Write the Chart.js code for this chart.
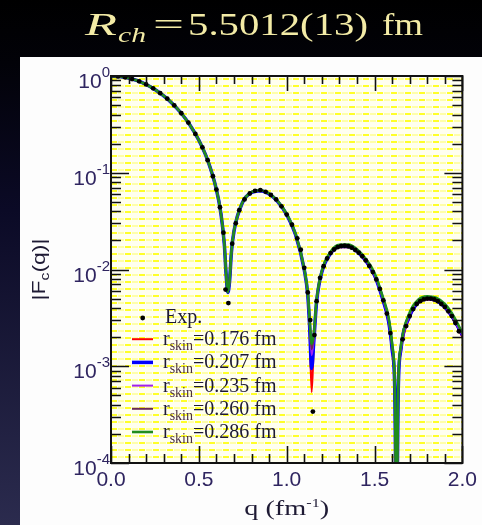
<!DOCTYPE html>
<html>
<head>
<meta charset="utf-8">
<title>Charge form factor</title>
<script src="https://cdn.jsdelivr.net/npm/chart.js@4.4.1/dist/chart.umd.min.js"></script>
<style>
html,body{margin:0;padding:0;background:#000;}
#wrap{width:482px;height:525px;position:relative;overflow:hidden;}
canvas{display:block;}
</style>
</head>
<body>
<div id="wrap"><canvas id="c" width="482" height="525"></canvas></div>
<script>
// ---------- data ----------
const qTheory = [0, 0.05, 0.1, 0.15, 0.2, 0.25, 0.3, 0.35, 0.4, 0.45, 0.5, 0.55, 0.6, 0.625, 0.645, 0.655, 0.665, 0.675, 0.685, 0.7, 0.75, 0.8, 0.85, 0.9, 0.95, 1.0, 1.05, 1.1, 1.12, 1.13, 1.142, 1.155, 1.17, 1.2, 1.25, 1.3, 1.35, 1.4, 1.45, 1.5, 1.55, 1.58, 1.6, 1.615, 1.625, 1.635, 1.65, 1.7, 1.75, 1.8, 1.85, 1.9, 1.95, 2.0];

const fSkin176 = [1.000, 0.988, 0.952, 0.894, 0.817, 0.726, 0.624, 0.518, 0.412, 0.310, 0.217, 0.135, 0.0669, 0.0383, 0.0181, 0.0090, 0.0058, 0.0075, 0.0147, 0.0248, 0.0496, 0.0624, 0.0651, 0.0600, 0.0498, 0.0366, 0.0228, 0.0098, 0.0053, 0.0025, 0.00054, 0.0018, 0.0045, 0.0093, 0.0145, 0.0170, 0.0170, 0.0152, 0.0121, 0.0085, 0.0046, 0.0028, 0.0014, 0.00056, 0.00002, 0.00056, 0.0014, 0.0032, 0.0045, 0.0049, 0.0047, 0.0040, 0.0030, 0.0020];
const fSkin207 = [1.000, 0.988, 0.952, 0.894, 0.817, 0.726, 0.624, 0.518, 0.412, 0.310, 0.217, 0.135, 0.0670, 0.0384, 0.0182, 0.0090, 0.0058, 0.0076, 0.0148, 0.0249, 0.0498, 0.0626, 0.0653, 0.0603, 0.0501, 0.0369, 0.0230, 0.0099, 0.0054, 0.0027, 0.00095, 0.0019, 0.0046, 0.0094, 0.0147, 0.0173, 0.0173, 0.0155, 0.0123, 0.0087, 0.0047, 0.0029, 0.0015, 0.00058, 0.00002, 0.00058, 0.0015, 0.0033, 0.0046, 0.0050, 0.0048, 0.0041, 0.0031, 0.0021];
const fSkin235 = [1.000, 0.988, 0.952, 0.894, 0.817, 0.726, 0.624, 0.518, 0.412, 0.310, 0.217, 0.135, 0.0671, 0.0385, 0.0183, 0.0091, 0.0058, 0.0076, 0.0149, 0.0250, 0.0499, 0.0628, 0.0655, 0.0605, 0.0503, 0.0371, 0.0232, 0.0100, 0.0055, 0.0029, 0.0013, 0.0020, 0.0047, 0.0095, 0.0149, 0.0175, 0.0175, 0.0157, 0.0125, 0.0088, 0.0048, 0.0030, 0.0016, 0.00060, 0.00002, 0.00060, 0.0015, 0.0034, 0.0047, 0.0051, 0.0049, 0.0042, 0.0031, 0.0021];
const fSkin260 = [1.000, 0.988, 0.952, 0.894, 0.817, 0.726, 0.624, 0.518, 0.412, 0.310, 0.217, 0.135, 0.0672, 0.0386, 0.0183, 0.0091, 0.0058, 0.0077, 0.0149, 0.0250, 0.0500, 0.0629, 0.0657, 0.0607, 0.0505, 0.0373, 0.0233, 0.0101, 0.0056, 0.0030, 0.0015, 0.0021, 0.0048, 0.0096, 0.0151, 0.0177, 0.0178, 0.0159, 0.0127, 0.0090, 0.0049, 0.0031, 0.0016, 0.00062, 0.00002, 0.00062, 0.0016, 0.0035, 0.0048, 0.0052, 0.0050, 0.0043, 0.0032, 0.0022];
const fSkin286 = [1.000, 0.988, 0.952, 0.894, 0.817, 0.726, 0.624, 0.518, 0.412, 0.310, 0.217, 0.135, 0.0673, 0.0387, 0.0184, 0.0092, 0.0058, 0.0077, 0.0150, 0.0251, 0.0502, 0.0631, 0.0659, 0.0609, 0.0507, 0.0375, 0.0235, 0.0102, 0.0057, 0.0031, 0.0017, 0.0022, 0.0049, 0.0097, 0.0153, 0.0180, 0.0181, 0.0162, 0.0129, 0.0092, 0.0050, 0.0032, 0.0017, 0.00064, 0.00002, 0.00064, 0.0016, 0.0036, 0.0049, 0.0053, 0.0051, 0.0044, 0.0033, 0.0022];

const expQ = [0.04, 0.08, 0.12, 0.16, 0.20, 0.24, 0.28, 0.32, 0.36, 0.40, 0.44, 0.48, 0.52, 0.55, 0.58, 0.60, 0.62, 0.64, 0.652, 0.668, 0.69, 0.71, 0.73, 0.76, 0.79, 0.82, 0.85, 0.88, 0.91, 0.94, 0.97, 1.00, 1.03, 1.06, 1.08, 1.10, 1.12, 1.134, 1.149, 1.158, 1.17, 1.19, 1.21, 1.23, 1.25, 1.27, 1.29, 1.31, 1.33, 1.35, 1.37, 1.39, 1.41, 1.43, 1.45, 1.47, 1.49, 1.51, 1.53, 1.55, 1.57, 1.59, 1.66, 1.68, 1.70, 1.72, 1.74, 1.76, 1.78, 1.80, 1.82, 1.84, 1.86, 1.88, 1.90, 1.92, 1.94, 1.96, 1.98];
const expF = [0.991, 0.968, 0.930, 0.880, 0.818, 0.745, 0.665, 0.583, 0.497, 0.412, 0.330, 0.252, 0.183, 0.135, 0.092, 0.067, 0.044, 0.024, 0.0062, 0.0045, 0.0185, 0.030, 0.041, 0.053, 0.061, 0.065, 0.066, 0.0635, 0.059, 0.053, 0.045, 0.037, 0.029, 0.021, 0.016, 0.0104, 0.0058, 0.0030, 0.00034, 0.0021, 0.0047, 0.0082, 0.0108, 0.0130, 0.0148, 0.0161, 0.0170, 0.0175, 0.0176, 0.0174, 0.0168, 0.0159, 0.0149, 0.0137, 0.0124, 0.0109, 0.0094, 0.0079, 0.0063, 0.0048, 0.0035, 0.0022, 0.0019, 0.0026, 0.0033, 0.0039, 0.0044, 0.0047, 0.0049, 0.0050, 0.0050, 0.0049, 0.0047, 0.0044, 0.0041, 0.0037, 0.0033, 0.0028, 0.0023];

const skinLabels = ['0.176', '0.207', '0.235', '0.260', '0.286'];
const xTickValues = [0, 0.5, 1.0, 1.5, 2.0];
const yDecades = [0, -1, -2, -3, -4];

// ---------- styles ----------
const SANS = '"Liberation Sans", Arial, sans-serif';
const SERIF = '"Liberation Serif", "Times New Roman", serif';
const TICK_COLOR = '#2f2560';
const TEXT_COLOR = '#1e1a34';

const seriesStyle = [
  { values: fSkin176, color: '#ff0000', width: 2 },
  { values: fSkin207, color: '#0000ff', width: 3.5 },
  { values: fSkin235, color: '#a020f0', width: 2 },
  { values: fSkin260, color: '#6a2a55', width: 2 },
  { values: fSkin286, color: '#1f8c1f', width: 2.6 }
];

function pairs(xs, ys) { return xs.map((x, i) => ({ x: x, y: ys[i] })); }

function makePattern(ctx) {
  const t = document.createElement('canvas');
  t.width = 14; t.height = 7;
  const g = t.getContext('2d');
  g.fillStyle = '#fffff0'; g.fillRect(0, 0, 14, 7);
  g.fillStyle = '#ffff28'; g.fillRect(0, 2, 6, 2);
  g.fillStyle = '#ffffa8'; g.fillRect(7, 2, 6, 2);
  return ctx.createPattern(t, 'repeat');
}

function drawPart(ctx, text, font, x, y, targetW) {
  ctx.font = font;
  const w = ctx.measureText(text).width;
  const s = targetW ? targetW / w : 1;
  ctx.save();
  ctx.translate(x, y);
  ctx.scale(s, 1);
  ctx.fillText(text, 0, 0);
  ctx.restore();
  return w * s;
}

function drawTitle(ctx) {
  ctx.save();
  ctx.fillStyle = '#f3eba6';
  ctx.textBaseline = 'alphabetic';
  ctx.textAlign = 'left';
  drawPart(ctx, 'R', 'italic 31px ' + SERIF, 85, 35, 32);
  drawPart(ctx, 'ch', 'italic 21px ' + SERIF, 118, 42, 28);
  drawPart(ctx, '=', '31px ' + SERIF, 153, 35, 31);
  drawPart(ctx, '5.5012(13)', '31px ' + SERIF, 188, 35, 180);
  drawPart(ctx, 'fm', '31px ' + SERIF, 382, 35, 41);
  ctx.restore();
}

const backdrop = {
  id: 'backdrop',
  beforeDraw(chart) {
    const { ctx, chartArea: a, width, height } = chart;
    ctx.save();
    const bg = ctx.createLinearGradient(0, 0, 0, height);
    bg.addColorStop(0, '#000000');
    bg.addColorStop(0.12, '#020208');
    bg.addColorStop(0.4, '#0b0a26');
    bg.addColorStop(1, '#2b2b4e');
    ctx.fillStyle = bg;
    ctx.fillRect(0, 0, width, height);
    ctx.fillStyle = '#fdfdfd';
    ctx.fillRect(20, 57, width - 20, height - 57);
    drawTitle(ctx);
    ctx.translate(a.left, a.top);
    ctx.fillStyle = makePattern(ctx);
    ctx.fillRect(0, 0, a.right - a.left, a.bottom - a.top);
    ctx.restore();
  }
};

const frame = {
  id: 'frame',
  afterDraw(chart) {
    const { ctx, chartArea: a, scales } = chart;
    const xs = scales.x, ys = scales.y;
    ctx.save();
    // ticks
    ctx.strokeStyle = '#111';
    ctx.lineWidth = 1.6;
    ctx.beginPath();
    for (let i = 0; i <= 20; i++) {
      const v = i / 10;
      const px = Math.round(xs.getPixelForValue(v)) + 0.5;
      const major = (i % 5 === 0);
      const L = major ? 17 : 9;
      ctx.moveTo(px, a.bottom); ctx.lineTo(px, a.bottom - L);
      ctx.moveTo(px, a.top); ctx.lineTo(px, a.top + (major ? 15 : 8));
    }
    for (let e = -4; e <= 0; e++) {
      for (let m = 1; m <= 9; m++) {
        if (e === 0 && m > 1) break;
        const py = Math.round(ys.getPixelForValue(m * Math.pow(10, e))) + 0.5;
        const L = (m === 1) ? 18 : 10;
        ctx.moveTo(a.left, py); ctx.lineTo(a.left + L, py);
        ctx.moveTo(a.right, py); ctx.lineTo(a.right - L, py);
      }
    }
    ctx.stroke();
    // frame
    ctx.lineWidth = 2;
    ctx.strokeRect(a.left, a.top, a.right - a.left, a.bottom - a.top);

    // y tick labels 10^n
    ctx.fillStyle = TICK_COLOR;
    ctx.textAlign = 'right';
    ctx.textBaseline = 'alphabetic';
    yDecades.forEach(e => {
      const py = ys.getPixelForValue(Math.pow(10, e));
      ctx.font = '15px ' + SANS;
      const ex = String(e);
      const ew = ctx.measureText(ex).width;
      ctx.fillText(ex, a.left - 1, py + 1);
      ctx.font = '21px ' + SANS;
      ctx.fillText('10', a.left - 1 - ew, py + 12);
    });

    // y axis title |F_c(q)|
    ctx.save();
    ctx.fillStyle = TEXT_COLOR;
    ctx.textAlign = 'left';
    ctx.translate(45, (a.top + a.bottom) / 2);
    ctx.rotate(-Math.PI / 2);
    const yParts = [
      { t: '|F', f: '19px ' + SANS, dy: 0 },
      { t: 'c', f: '13px ' + SANS, dy: 4 },
      { t: '(q)|', f: '19px ' + SANS, dy: 0 }
    ];
    let tw = 0;
    yParts.forEach(p => { ctx.font = p.f; p.w = ctx.measureText(p.t).width; tw += p.w; });
    const ySc = 62 / tw;
    let cx = -31;
    yParts.forEach(p => { drawPart(ctx, p.t, p.f, cx, p.dy, p.w * ySc); cx += p.w * ySc; });
    ctx.restore();

    // x axis title q (fm^-1)
    ctx.save();
    ctx.fillStyle = TEXT_COLOR;
    ctx.textAlign = 'left';
    const xParts = [
      { t: 'q (fm', f: '21px ' + SERIF, dy: 0 },
      { t: '-1', f: '12px ' + SERIF, dy: -8 },
      { t: ')', f: '21px ' + SERIF, dy: 0 }
    ];
    let xw = 0;
    xParts.forEach(p => { ctx.font = p.f; p.w = ctx.measureText(p.t).width; xw += p.w; });
    const xSc = 85 / xw;
    let xx = (a.left + a.right) / 2 - 42.5;
    xParts.forEach(p => { drawPart(ctx, p.t, p.f, xx, 515 + p.dy, p.w * xSc); xx += p.w * xSc; });
    ctx.restore();

    // legend
    const lx = a.left;
    const row0 = a.bottom - 147;
    const step = 23.2;
    ctx.fillStyle = '#000';
    ctx.beginPath();
    ctx.arc(lx + 31.7, row0 + 2, 2.4, 0, Math.PI * 2);
    ctx.fill();
    ctx.fillStyle = TEXT_COLOR;
    ctx.textAlign = 'left';
    ctx.font = '20px ' + SERIF;
    ctx.fillText('Exp.', lx + 54, row0 + 7);
    seriesStyle.forEach((s, i) => {
      const yy = row0 + step * (i + 1);
      ctx.strokeStyle = s.color;
      ctx.lineWidth = s.width;
      ctx.beginPath();
      ctx.moveTo(lx + 21, yy); ctx.lineTo(lx + 42, yy);
      ctx.stroke();
      ctx.fillStyle = TEXT_COLOR;
      ctx.font = '20px ' + SERIF;
      let tx = lx + 52;
      ctx.fillText('r', tx, yy + 6);
      tx += ctx.measureText('r').width;
      ctx.fillStyle = '#4a3040';
      ctx.font = '14px ' + SERIF;
      ctx.fillText('skin', tx, yy + 11);
      tx += ctx.measureText('skin').width;
      ctx.fillStyle = TEXT_COLOR;
      ctx.font = '20px ' + SERIF;
      ctx.fillText('=' + skinLabels[i] + ' fm', tx, yy + 6);
    });
    ctx.restore();
  }
};

const lineDatasets = seriesStyle.map((s, i) => ({
  label: 'r_skin=' + skinLabels[i] + ' fm',
  data: pairs(qTheory, s.values),
  borderColor: s.color,
  borderWidth: s.width,
  pointRadius: 0,
  pointHoverRadius: 0,
  fill: false,
  cubicInterpolationMode: 'monotone'
})).reverse();

new Chart(document.getElementById('c'), {
  type: 'line',
  data: {
    datasets: [
      {
        label: 'Exp.',
        data: pairs(expQ, expF),
        showLine: false,
        pointRadius: 2.4,
        pointHoverRadius: 0,
        pointBackgroundColor: '#000',
        pointBorderWidth: 0,
        borderColor: '#000'
      }
    ].concat(lineDatasets)
  },
  options: {
    responsive: false,
    animation: false,
    devicePixelRatio: 1,
    layout: { padding: { left: 0, right: 16, top: 76, bottom: 0 } },
    plugins: { legend: { display: false }, tooltip: { enabled: false }, title: { display: false } },
    scales: {
      x: {
        type: 'linear', min: 0, max: 2,
        grid: { display: false, drawTicks: false },
        border: { display: false },
        afterBuildTicks: s => { s.ticks = xTickValues.map(v => ({ value: v })); },
        ticks: {
          autoSkip: false, maxRotation: 0, padding: 5,
          color: TICK_COLOR,
          font: { family: SANS, size: 21 },
          callback: v => Number(v).toFixed(1)
        },
        afterFit: s => { s.height = 62; }
      },
      y: {
        type: 'logarithmic', min: 1e-4, max: 1,
        grid: { display: false, drawTicks: false },
        border: { display: false },
        ticks: { display: false },
        afterFit: s => { s.width = 111; }
      }
    }
  },
  plugins: [backdrop, frame]
});
</script>
</body>
</html>
